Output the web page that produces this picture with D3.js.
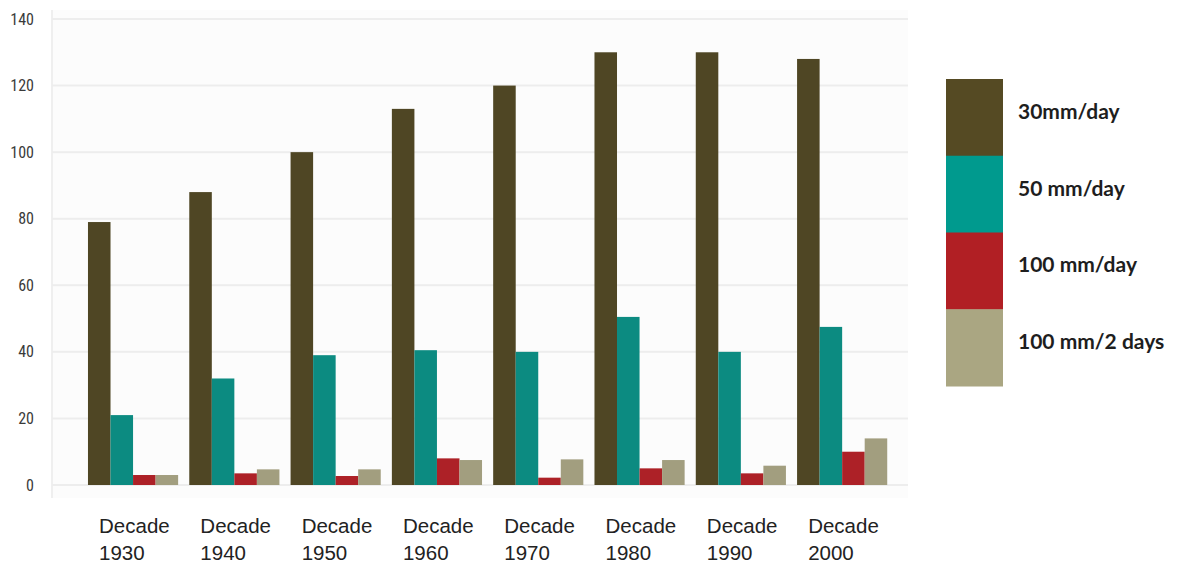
<!DOCTYPE html>
<html><head><meta charset="utf-8">
<script src="https://cdn.jsdelivr.net/npm/d3@7"></script>
<style>
html,body{margin:0;padding:0;background:#fff;}
svg{display:block;}
</style></head>
<body>
<svg id="chart" width="1178" height="567"></svg>
<script>
const decades = ["1930","1940","1950","1960","1970","1980","1990","2000"];
const seriesNames = ["30mm/day","50 mm/day","100 mm/day","100 mm/2 days"];
const s30 = [79, 88, 100, 113, 120, 130, 130, 128];
const s50 = [21, 32, 39, 40.5, 40, 50.5, 40, 47.5];
const s100 = [3, 3.5, 2.7, 8, 2.2, 5, 3.5, 10];
const s100x2 = [3, 4.7, 4.7, 7.5, 7.7, 7.5, 5.8, 14];
const yTicks = [0, 20, 40, 60, 80, 100, 120, 140];

const series = [s30, s50, s100, s100x2];
const barColors = ["#4f4624", "#0c8b81", "#ad2127", "#a29e7f"];
const legendColors = ["#554a23", "#009a8e", "#b11f24", "#aaa682"];

const svg = d3.select("#chart");

const x = d3.scaleBand().domain(decades).range([82.4, 892.8]).paddingInner(0.11).paddingOuter(0.055);
const xs = d3.scaleBand().domain(d3.range(series.length)).range([0, x.bandwidth()]);
const y = d3.scaleLinear().domain([0, 140]).range([485, 19]);

// plot background
svg.append("rect").attr("x", 52).attr("y", 10).attr("width", 856).attr("height", 488)
  .attr("fill", "#fcfcfc");
svg.append("line").attr("x1", 52).attr("x2", 52).attr("y1", 10).attr("y2", 498)
  .attr("stroke", "#efefef").attr("stroke-width", 2);

// gridlines
svg.append("g").selectAll("line").data(yTicks).join("line")
  .attr("x1", 52).attr("x2", 908)
  .attr("y1", d => y(d)).attr("y2", d => y(d))
  .attr("stroke", "#ededed").attr("stroke-width", 2);

// y axis labels
const yAxis = d3.axisLeft(y).tickValues(yTicks).tickSize(0).tickPadding(0);
const gy = svg.append("g").attr("transform", "translate(34,0)").call(yAxis);
gy.select(".domain").remove();
gy.selectAll("text")
  .attr("font-family", "'Liberation Sans Narrow', 'Roboto Condensed', 'DejaVu Sans Condensed', sans-serif")
  .attr("font-size", 16).attr("fill", "#3a3a3a");

// bars
const groups = svg.append("g").selectAll("g").data(decades).join("g")
  .attr("transform", d => `translate(${x(d)},0)`);
groups.selectAll("rect").data((d, i) => series.map((s, k) => ({k, v: s[i]}))).join("rect")
  .attr("x", d => xs(d.k))
  .attr("width", xs.bandwidth())
  .attr("y", d => y(d.v))
  .attr("height", d => y(0) - y(d.v))
  .attr("fill", d => barColors[d.k]);

// x labels
const xl = svg.append("g").selectAll("text").data(decades).join("text")
  .attr("font-family", "'Liberation Sans', Arial, sans-serif")
  .attr("font-size", 20.5).attr("fill", "#222")
  .attr("text-anchor", "start");
xl.append("tspan").attr("x", d => x(d) + x.bandwidth() / 2 - 34).attr("y", 533).text("Decade");
xl.append("tspan").attr("x", d => x(d) + x.bandwidth() / 2 - 34).attr("y", 560).text(d => d);

// legend
const lg = svg.append("g");
const legY = d3.scaleBand().domain(d3.range(seriesNames.length)).range([79, 386]);
lg.selectAll("rect").data(seriesNames).join("rect")
  .attr("x", 946).attr("y", (d, i) => legY(i))
  .attr("width", 57).attr("height", legY.bandwidth() + 0.5)
  .attr("fill", (d, i) => legendColors[i]);
lg.selectAll("text").data(seriesNames).join("text")
  .attr("x", 1018).attr("y", (d, i) => legY(i) + legY.bandwidth() / 2 - 4)
  .attr("dominant-baseline", "middle")
  .attr("font-family", "Lato, 'Open Sans', sans-serif")
  .attr("font-weight", "bold").attr("font-size", 21).attr("fill", "#1e1e1e")
  .text(d => d);
</script>
</body></html>
